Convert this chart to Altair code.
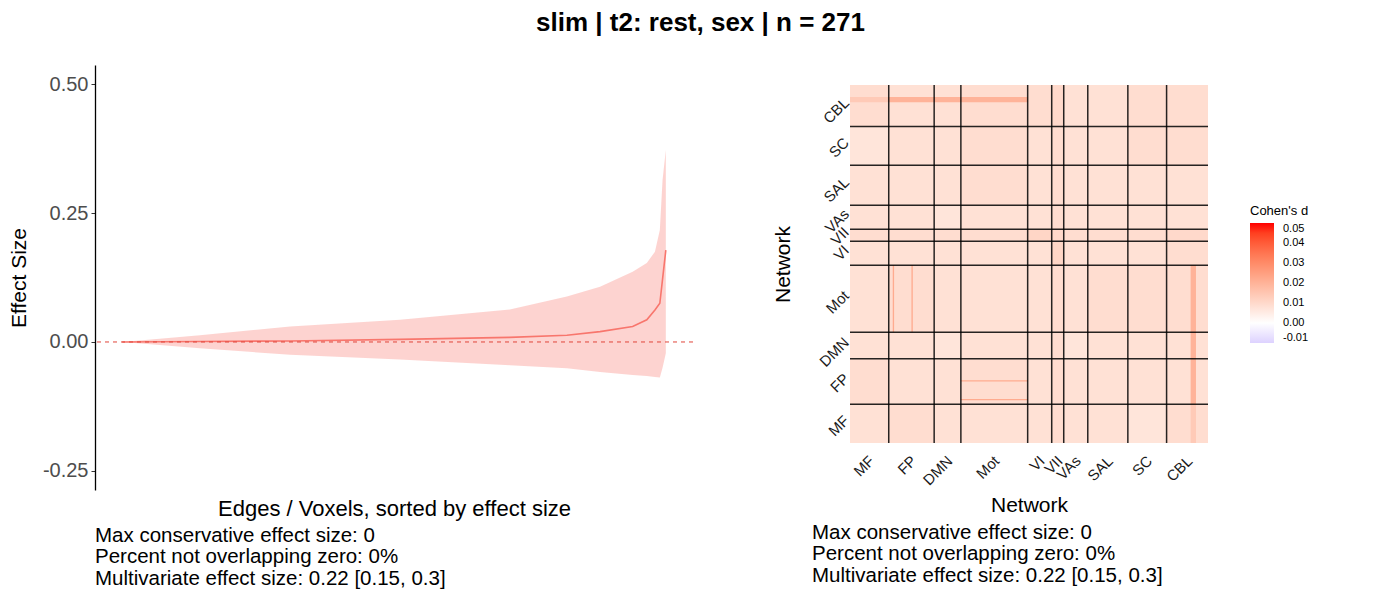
import altair as alt
import pandas as pd

# ---------------- data: left panel (sorted edge effect sizes) ----------------
rank_frac = [0.0, 0.143, 0.309, 0.511, 0.713, 0.818, 0.879, 0.939, 0.965, 0.980, 0.989, 0.994, 1.0]
effect    = [0.0, 0.001, 0.002, 0.005, 0.009, 0.013, 0.020, 0.030, 0.043, 0.062, 0.075, 0.122, 0.178]
ci_upper  = [0.0, 0.013, 0.030, 0.043, 0.063, 0.088, 0.107, 0.136, 0.153, 0.175, 0.217, 0.314, 0.372]
ci_lower  = [0.0, -0.012, -0.025, -0.034, -0.045, -0.051, -0.058, -0.064, -0.066, -0.068, -0.069, -0.050, -0.022]
y_ticks = [-0.25, 0.0, 0.25, 0.50]

# ---------------- data: right panel (network-level Cohen's d) ----------------
net_names = ["MF", "FP", "DMN", "Mot", "VI", "VII", "VAs", "SAL", "SC", "CBL"]
net_sizes = [29, 34, 20, 50, 18, 9, 18, 30, 29, 31]
# upper triangle of block-mean effect sizes (row i, columns i..9)
block_upper = [
    [0.008, 0.009, 0.008, 0.008, 0.008, 0.009, 0.008, 0.008, 0.007, 0.009],
    [0.008, 0.008, 0.009, 0.008, 0.009, 0.008, 0.008, 0.008, 0.008],
    [0.007, 0.008, 0.008, 0.009, 0.007, 0.008, 0.008, 0.008],
    [0.008, 0.008, 0.009, 0.008, 0.009, 0.009, 0.009],
    [0.008, 0.011, 0.008, 0.008, 0.008, 0.009],
    [0.010, 0.009, 0.009, 0.009, 0.010],
    [0.008, 0.008, 0.008, 0.008],
    [0.008, 0.008, 0.008],
    [0.009, 0.009],
    [0.009],
]
# stronger strips of edges (node range A x node range B, value), symmetric
strip_a_lo = [255, 255, 32, 46]
strip_a_hi = [259, 259, 33, 47]
strip_b_lo = [29, 0, 83, 83]
strip_b_hi = [133, 29, 133, 133]
strip_val  = [0.020, 0.014, 0.022, 0.022]
legend_values = [-0.01, 0.0, 0.01, 0.02, 0.03, 0.04, 0.05]

# ---------------- build tables ----------------
curve = pd.DataFrame({"rank": rank_frac, "effect": effect, "up": ci_upper, "lo": ci_lower})

starts, ends = [], []
acc = 0
for s in net_sizes:
    starts.append(acc)
    acc += s
    ends.append(acc)
total = acc
centers = [(a + b) / 2 for a, b in zip(starts, ends)]
bounds = ends[:-1]

rows = []
n = len(net_names)
for i in range(n):
    for j in range(n):
        v = block_upper[min(i, j)][abs(j - i)]
        rows.append({"x": starts[j], "x2": ends[j], "y": starts[i], "y2": ends[i], "d": v})
for a0, a1, b0, b1, v in zip(strip_a_lo, strip_a_hi, strip_b_lo, strip_b_hi, strip_val):
    rows.append({"x": a0, "x2": a1, "y": b0, "y2": b1, "d": v})
    rows.append({"x": b0, "x2": b1, "y": a0, "y2": a1, "d": v})
cells = pd.DataFrame(rows)
bdf = pd.DataFrame({"b": bounds})

FONT = "Liberation Sans"
MINUS_FIX = "replace(format(datum.value, '.2f'), '\u2212', '-')"
stats_lines = [
    "Max conservative effect size: 0",
    "Percent not overlapping zero: 0%",
    "Multivariate effect size: 0.22 [0.15, 0.3]",
]

# ---------------- left chart ----------------
xs = alt.Scale(domain=[-0.05, 1.05], nice=False, zero=False)
ys = alt.Scale(domain=[-0.287, 0.537], nice=False, zero=False)
x_ax = alt.Axis(labels=False, ticks=False, domain=False, grid=False,
                title="Edges / Voxels, sorted by effect size", titleFontSize=22,
                titleFontWeight="normal", titleColor="black", titlePadding=8)
y_ax = alt.Axis(values=y_ticks, labelExpr=MINUS_FIX,
                grid=False, domainColor="black", domainWidth=1.3,
                tickColor="#333333", tickSize=4, labelColor="#4d4d4d", labelFontSize=20,
                labelPadding=3, title="Effect Size", titleFontSize=21, titleFontWeight="normal",
                titleColor="black", titlePadding=14, minExtent=52, maxExtent=52)

area = alt.Chart(curve).mark_area(color="#F8766D", opacity=0.32).encode(
    x=alt.X("rank:Q", scale=xs, axis=x_ax),
    y=alt.Y("lo:Q", scale=ys, axis=y_ax),
    y2="up:Q",
)
line = alt.Chart(curve).mark_line(color="#F8766D", strokeWidth=1.6).encode(
    x=alt.X("rank:Q", scale=xs, axis=x_ax), y=alt.Y("effect:Q", scale=ys, axis=y_ax)
)
zero = alt.Chart(pd.DataFrame({"z": [0.0]})).mark_rule(color="#e0443a", strokeDash=[4, 4], strokeWidth=1).encode(
    y=alt.Y("z:Q", scale=ys, axis=y_ax)
)
left = alt.layer(area, line, zero).properties(
    width=598, height=425,
    title=alt.TitleParams(stats_lines, orient="bottom", anchor="start", frame="group",
                          fontSize=20.5, fontWeight="normal", lineHeight=21.3, offset=7, color="black"),
)

# ---------------- right chart ----------------
label_expr = "[" + ",".join("'%s'" % s for s in net_names) + "][indexof([" + ",".join(str(c) for c in centers) + "], datum.value)]"
hx = alt.Scale(domain=[0, total], nice=False, zero=False)
hy = alt.Scale(domain=[0, total], nice=False, zero=False)
hx_ax = alt.Axis(values=centers, labelExpr=label_expr, labelAngle=-45, labelAlign="right",
                 labelBaseline="top", labelFontSize=15, labelColor="#1a1a1a", ticks=False,
                 labelOverlap=False, labelBound=False, labelOffset=-3,
                 domain=False, grid=False, labelPadding=10, title="Network", titleFontSize=21,
                 titleFontWeight="normal", titleColor="black", titlePadding=7, minExtent=44, maxExtent=44)
hy_ax = alt.Axis(values=centers, labelExpr=label_expr, labelAngle=-45, labelAlign="right",
                 labelBaseline="middle", labelFontSize=15, labelColor="#1a1a1a", ticks=False,
                 labelOverlap=False, labelBound=False, labelOffset=-6,
                 domain=False, grid=False, labelPadding=4, title="Network", titleFontSize=21,
                 titleFontWeight="normal", titleColor="black", titlePadding=12, minExtent=45, maxExtent=45)

color = alt.Color("d:Q", scale=alt.Scale(domain=[-0.01, 0.0, 0.05], range=["#ddd2ff", "#ffffff", "#ff0000"],
                                         interpolate="lab"),
                  legend=alt.Legend(title="Cohen's d", orient="none", legendX=1155, legendY=140,
                                    gradientLength=120, gradientThickness=24, values=legend_values,
                                    labelExpr=MINUS_FIX, labelOffset=9,
                                    titleFontSize=13, titleFontWeight="normal",
                                    titleColor="black", labelFontSize=11, labelColor="black",
                                    direction="vertical"))

heat = alt.Chart(cells).mark_rect(strokeWidth=0).encode(
    x=alt.X("x:Q", scale=hx, axis=hx_ax), x2="x2:Q",
    y=alt.Y("y:Q", scale=hy, axis=hy_ax), y2="y2:Q",
    color=color,
)
vlines = alt.Chart(bdf).mark_rule(color="black", strokeWidth=1.5, opacity=0.85).encode(
    x=alt.X("b:Q", scale=hx, axis=hx_ax))
hlines = alt.Chart(bdf).mark_rule(color="black", strokeWidth=1.5, opacity=0.85).encode(
    y=alt.Y("b:Q", scale=hy, axis=hy_ax))
right = alt.layer(heat, vlines, hlines).properties(
    width=358, height=358,
    title=alt.TitleParams(stats_lines, orient="bottom", anchor="start", frame="group",
                          fontSize=20.5, fontWeight="normal", lineHeight=21.3, offset=8, color="black",
                          dx=-38),
)
right_top = alt.vconcat(
    alt.Chart(pd.DataFrame({"a": [0]})).mark_point(opacity=0).encode(x=alt.value(0), y=alt.value(0)).properties(width=1, height=1),
    right, spacing=16,
)

chart = alt.hconcat(left, right_top, spacing=78).properties(
    title=alt.TitleParams("slim | t2: rest, sex | n = 271", fontSize=26, fontWeight="bold",
                          anchor="middle", offset=26, color="black", dx=42),
    padding={"left": 0, "top": 2, "right": 0, "bottom": 0},
).configure(font=FONT).configure_view(stroke=None).configure_axis(labelOverlap=False)

chart.save("out.html", embed_options={"renderer": "svg", "actions": False})
